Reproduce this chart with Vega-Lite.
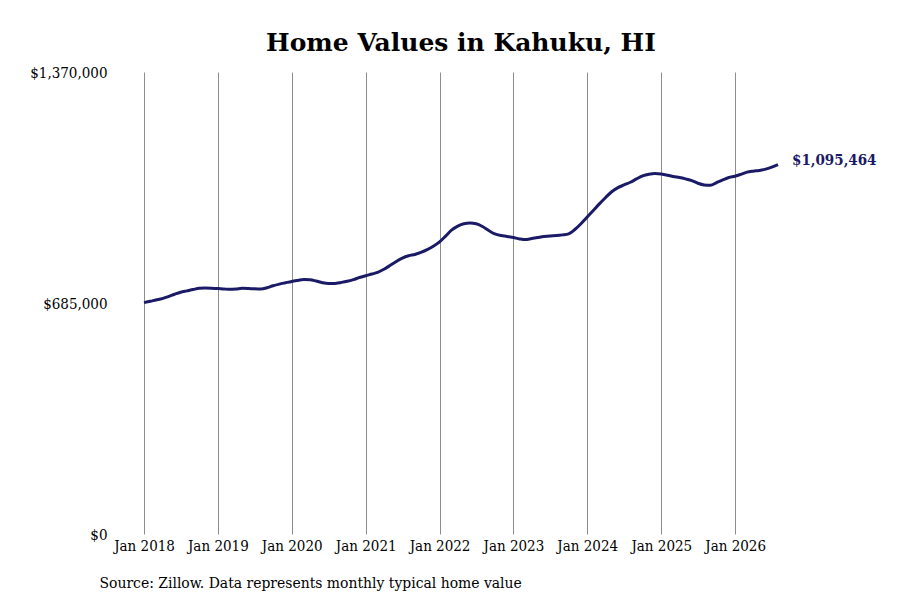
{
  "$schema": "https://vega.github.io/schema/vega-lite/v6.json",
  "width": 634,
  "height": 462,
  "autosize": {"type": "none"},
  "padding": {"left": 144, "top": 72, "right": 122, "bottom": 66},
  "background": "white",
  "title": {
    "text": "Home Values in Kahuku, HI",
    "font": "DejaVu Serif",
    "fontSize": 25,
    "fontWeight": "bold",
    "color": "#000000",
    "anchor": "middle",
    "offset": 9
  },
  "config": {
    "view": {"stroke": null},
    "font": "DejaVu Serif Condensed"
  },
  "data": {
    "values": [
      {"date": "2018/01/01", "value": 686000},
      {"date": "2018/02/01", "value": 690000},
      {"date": "2018/03/01", "value": 694000},
      {"date": "2018/04/01", "value": 698000},
      {"date": "2018/05/01", "value": 704000},
      {"date": "2018/06/01", "value": 711000},
      {"date": "2018/07/01", "value": 717000},
      {"date": "2018/08/01", "value": 721000},
      {"date": "2018/09/01", "value": 725000},
      {"date": "2018/10/01", "value": 728500},
      {"date": "2018/11/01", "value": 729500},
      {"date": "2018/12/01", "value": 729000},
      {"date": "2019/01/01", "value": 728000},
      {"date": "2019/02/01", "value": 726500},
      {"date": "2019/03/01", "value": 725500},
      {"date": "2019/04/01", "value": 726500},
      {"date": "2019/05/01", "value": 728500},
      {"date": "2019/06/01", "value": 728000},
      {"date": "2019/07/01", "value": 727000},
      {"date": "2019/08/01", "value": 726500},
      {"date": "2019/09/01", "value": 730000},
      {"date": "2019/10/01", "value": 736000},
      {"date": "2019/11/01", "value": 741000},
      {"date": "2019/12/01", "value": 745000},
      {"date": "2020/01/01", "value": 749000},
      {"date": "2020/02/01", "value": 752000},
      {"date": "2020/03/01", "value": 754500},
      {"date": "2020/04/01", "value": 754000},
      {"date": "2020/05/01", "value": 750000},
      {"date": "2020/06/01", "value": 745000},
      {"date": "2020/07/01", "value": 742500},
      {"date": "2020/08/01", "value": 743000},
      {"date": "2020/09/01", "value": 746000},
      {"date": "2020/10/01", "value": 749500},
      {"date": "2020/11/01", "value": 754500},
      {"date": "2020/12/01", "value": 760500},
      {"date": "2021/01/01", "value": 766000},
      {"date": "2021/02/01", "value": 771000},
      {"date": "2021/03/01", "value": 776000},
      {"date": "2021/04/01", "value": 785000},
      {"date": "2021/05/01", "value": 796000},
      {"date": "2021/06/01", "value": 808000},
      {"date": "2021/07/01", "value": 818000},
      {"date": "2021/08/01", "value": 825000},
      {"date": "2021/09/01", "value": 829000},
      {"date": "2021/10/01", "value": 835000},
      {"date": "2021/11/01", "value": 843000},
      {"date": "2021/12/01", "value": 853000},
      {"date": "2022/01/01", "value": 866000},
      {"date": "2022/02/01", "value": 884000},
      {"date": "2022/03/01", "value": 901000},
      {"date": "2022/04/01", "value": 913000},
      {"date": "2022/05/01", "value": 920000},
      {"date": "2022/06/01", "value": 922000},
      {"date": "2022/07/01", "value": 920000},
      {"date": "2022/08/01", "value": 912000},
      {"date": "2022/09/01", "value": 900000},
      {"date": "2022/10/01", "value": 890000},
      {"date": "2022/11/01", "value": 885000},
      {"date": "2022/12/01", "value": 882500},
      {"date": "2023/01/01", "value": 879000},
      {"date": "2023/02/01", "value": 875000},
      {"date": "2023/03/01", "value": 873000},
      {"date": "2023/04/01", "value": 876000},
      {"date": "2023/05/01", "value": 879000},
      {"date": "2023/06/01", "value": 882000},
      {"date": "2023/07/01", "value": 884000},
      {"date": "2023/08/01", "value": 885000},
      {"date": "2023/09/01", "value": 887000},
      {"date": "2023/10/01", "value": 890000},
      {"date": "2023/11/01", "value": 903000},
      {"date": "2023/12/01", "value": 920000},
      {"date": "2024/01/01", "value": 940000},
      {"date": "2024/02/01", "value": 960000},
      {"date": "2024/03/01", "value": 979000},
      {"date": "2024/04/01", "value": 998000},
      {"date": "2024/05/01", "value": 1015000},
      {"date": "2024/06/01", "value": 1027000},
      {"date": "2024/07/01", "value": 1035000},
      {"date": "2024/08/01", "value": 1043000},
      {"date": "2024/09/01", "value": 1053000},
      {"date": "2024/10/01", "value": 1062000},
      {"date": "2024/11/01", "value": 1067000},
      {"date": "2024/12/01", "value": 1069000},
      {"date": "2025/01/01", "value": 1067500},
      {"date": "2025/02/01", "value": 1064000},
      {"date": "2025/03/01", "value": 1060000},
      {"date": "2025/04/01", "value": 1057000},
      {"date": "2025/05/01", "value": 1053000},
      {"date": "2025/06/01", "value": 1048000},
      {"date": "2025/07/01", "value": 1040000},
      {"date": "2025/08/01", "value": 1035000},
      {"date": "2025/09/01", "value": 1034000},
      {"date": "2025/10/01", "value": 1042000},
      {"date": "2025/11/01", "value": 1050000},
      {"date": "2025/12/01", "value": 1057000},
      {"date": "2026/01/01", "value": 1061000},
      {"date": "2026/02/01", "value": 1067000},
      {"date": "2026/03/01", "value": 1073000},
      {"date": "2026/04/01", "value": 1076000},
      {"date": "2026/05/01", "value": 1078000},
      {"date": "2026/06/01", "value": 1082000},
      {"date": "2026/07/01", "value": 1088000},
      {"date": "2026/08/01", "value": 1095464}
    ],
    "format": {"parse": {"date": "date"}}
  },
  "encoding": {
    "x": {
      "field": "date",
      "type": "temporal",
      "scale": {"domain": [{"year": 2018, "month": 1, "date": 1}, {"year": 2026, "month": 8, "date": 1}]},
      "axis": {
        "values": [
          {"year": 2018, "month": 1, "date": 1},
          {"year": 2019, "month": 1, "date": 1},
          {"year": 2020, "month": 1, "date": 1},
          {"year": 2021, "month": 1, "date": 1},
          {"year": 2022, "month": 1, "date": 1},
          {"year": 2023, "month": 1, "date": 1},
          {"year": 2024, "month": 1, "date": 1},
          {"year": 2025, "month": 1, "date": 1},
          {"year": 2026, "month": 1, "date": 1}
        ],
        "format": "%b %Y",
        "grid": true,
        "gridColor": "#8c8c8c",
        "gridWidth": 1,
        "gridOpacity": 1,
        "domain": false,
        "ticks": false,
        "labelPadding": 4,
        "labelFont": "DejaVu Serif Condensed",
        "labelFontSize": 15,
        "labelColor": "#000000",
        "labelFlush": false,
        "labelOverlap": false,
        "title": "Source: Zillow. Data represents monthly typical home value",
        "titleFont": "DejaVu Serif Condensed",
        "titleFontSize": 15.5,
        "titleFontWeight": "normal",
        "titleColor": "#000000",
        "titleAlign": "left",
        "titleAnchor": "start",
        "titleBaseline": "middle",
        "titleX": -45,
        "titleY": 48
      }
    },
    "y": {
      "field": "value",
      "type": "quantitative",
      "scale": {"domain": [0, 1370000], "nice": false, "zero": true},
      "axis": {
        "values": [0, 685000, 1370000],
        "format": "$,.0f",
        "grid": false,
        "domain": false,
        "ticks": false,
        "labelPadding": 37,
        "labelFont": "DejaVu Serif Condensed",
        "labelFontSize": 15,
        "labelColor": "#000000",
        "labelBaseline": "middle",
        "labelFlush": false,
        "title": null
      }
    }
  },
  "layer": [
    {
      "mark": {"type": "line", "color": "#1a1a66", "strokeWidth": 3, "interpolate": "monotone"}
    },
    {
      "transform": [{"filter": "datum.value == 1095464"}],
      "mark": {"type": "text", "align": "left", "baseline": "middle", "dx": 14, "dy": -5, "font": "DejaVu Serif Condensed", "fontSize": 15, "fontWeight": "bold", "color": "#1a1a66"},
      "encoding": {"text": {"field": "value", "type": "quantitative", "format": "$,.0f"}}
    }
  ]
}
